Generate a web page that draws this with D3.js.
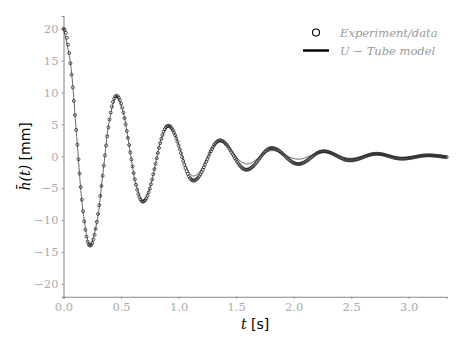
<!DOCTYPE html>
<html><head><meta charset="utf-8">
<script src="https://cdn.jsdelivr.net/npm/d3@7"></script>
<style>html,body{margin:0;padding:0;background:#fff;}svg{display:block;}</style>
</head><body>
<svg id="c" width="463" height="347"></svg>
<script>
// ---- data ----
const tStart = 0, tStep = 0.01;
const expH = [
20.00,19.84,19.37,18.59,17.52,16.19,14.60,12.80,10.82,8.70,6.46,4.16,1.84,-0.46,-2.69,-4.82,-6.80,-8.60,-10.19,-11.52,-12.59,-13.37,-13.84,
-14.00,-13.89,-13.57,-13.03,-12.29,-11.37,-10.27,-9.03,-7.66,-6.19,-4.64,-3.05,-1.45,0.14,1.69,3.16,4.53,5.77,6.87,7.79,8.53,9.07,9.39,
9.50,9.42,9.19,8.81,8.29,7.64,6.86,5.99,5.02,3.98,2.89,1.77,0.63,-0.49,-1.58,-2.62,-3.59,-4.46,-5.24,-5.89,-6.41,-6.79,-7.02,
-7.10,-7.04,-6.86,-6.56,-6.16,-5.65,-5.05,-4.37,-3.62,-2.83,-2.00,-1.15,-0.30,0.53,1.32,2.07,2.75,3.35,3.86,4.26,4.56,4.74,
4.80,4.76,4.63,4.41,4.12,3.75,3.32,2.82,2.29,1.71,1.11,0.50,-0.11,-0.71,-1.29,-1.82,-2.32,-2.75,-3.12,-3.41,-3.63,-3.76,
-3.80,-3.77,-3.68,-3.54,-3.34,-3.09,-2.80,-2.47,-2.10,-1.71,-1.29,-0.86,-0.44,-0.01,0.41,0.80,1.17,1.50,1.79,2.04,2.24,2.38,2.47,
2.50,2.48,2.41,2.31,2.17,1.98,1.77,1.53,1.26,0.97,0.67,0.36,0.04,-0.27,-0.57,-0.86,-1.13,-1.37,-1.58,-1.77,-1.91,-2.01,-2.08,
-2.10,-2.08,-2.03,-1.95,-1.83,-1.68,-1.51,-1.32,-1.11,-0.88,-0.64,-0.40,-0.16,0.08,0.31,0.52,0.71,0.88,1.03,1.15,1.23,1.28,
1.30,1.29,1.25,1.20,1.12,1.02,0.90,0.77,0.63,0.47,0.30,0.14,-0.04,-0.20,-0.37,-0.53,-0.67,-0.80,-0.92,-1.02,-1.10,-1.15,-1.19,
-1.20,-1.19,-1.16,-1.11,-1.04,-0.96,-0.85,-0.74,-0.62,-0.48,-0.34,-0.20,-0.06,0.08,0.22,0.34,0.45,0.56,0.64,0.71,0.76,0.79,
0.80,0.79,0.77,0.74,0.70,0.64,0.57,0.50,0.41,0.32,0.23,0.13,0.04,-0.06,-0.15,-0.24,-0.33,-0.40,-0.47,-0.53,-0.57,-0.60,-0.62,
-0.63,-0.62,-0.61,-0.59,-0.55,-0.51,-0.47,-0.41,-0.35,-0.29,-0.22,-0.15,-0.08,-0.01,0.06,0.12,0.18,0.24,0.28,0.32,0.36,0.38,0.40,
0.40,0.40,0.38,0.37,0.34,0.31,0.27,0.23,0.18,0.13,0.07,0.02,-0.03,-0.09,-0.14,-0.19,-0.23,-0.27,-0.30,-0.33,-0.35,-0.36,
-0.36,-0.36,-0.35,-0.34,-0.32,-0.30,-0.28,-0.25,-0.22,-0.19,-0.15,-0.12,-0.08,-0.05,-0.01,0.02,0.05,0.08,0.10,0.12,0.14,0.15,0.16,
0.16,0.16,0.15,0.15,0.13,0.12,0.10,0.08,0.06,0.04,0.02,-0.01,-0.03,-0.06,-0.08,-0.10,-0.12
];
const modelT = [0,0.0575,0.115,0.1725,0.23,0.2875,0.345,0.4025,0.46,0.5175,0.575,0.6325,0.69,0.745,0.80,0.855,0.91,0.965,1.02,1.075,1.13,1.1875,1.245,1.3025,1.36,1.4175,1.475,1.5325,1.59,1.645,1.70,1.755,1.81,1.8675,1.925,1.9825,2.04,2.095,2.15,2.205,2.26,2.3175,2.375,2.4325,2.49,2.5475,2.605,2.6625,2.72,2.775,2.83,2.885,2.94,2.9975,3.055,3.1125,3.17,3.2275,3.285,3.33];
const modelH = [20,15.02,3.0,-9.02,-14.0,-10.57,-2.3,5.97,9.4,7.0,1.2,-4.6,-7.0,-5.29,-1.15,2.99,4.7,3.56,0.8,-1.96,-3.1,-2.31,-0.4,1.51,2.3,1.79,0.55,-0.69,-1.2,-0.89,-0.15,0.59,0.9,0.70,0.225,-0.25,-0.45,-0.28,0.125,0.53,0.7,0.55,0.2,-0.15,-0.3,-0.2,0.05,0.3,0.4,0.31,0.1,-0.11,-0.2,-0.15,-0.025,0.10,0.15,0.11,0.025,-0.05];
const xTicks = [0,0.5,1.0,1.5,2.0,2.5,3.0];
const yTicks = [-20,-15,-10,-5,0,5,10,15,20];
const xDomain = [0,3.33], yDomain = [-22,22];
const legendLabels = ["Experiment/data","U \u2212 Tube model"];

// ---- chart ----
const svg = d3.select("#c");
const L = 63.5, R = 446.7, T = 16, B = 296.7;
const x = d3.scaleLinear().domain(xDomain).range([L,R]);
const y = d3.scaleLinear().domain(yDomain).range([B,T]);
const serif = "'DejaVu Serif','Liberation Serif',serif";
const sans = "'DejaVu Sans','Liberation Sans',sans-serif";

const gx = svg.append("g").attr("transform",`translate(0,${B})`)
  .call(d3.axisBottom(x).tickValues(xTicks).tickSize(2).tickPadding(4).tickFormat(d3.format(".1f")));
const gy = svg.append("g").attr("transform",`translate(${L},0)`)
  .call(d3.axisLeft(y).tickValues(yTicks).tickSize(2).tickPadding(3).tickFormat(d3.format("d")));
[gx,gy].forEach(g=>{
  g.select(".domain").attr("stroke","#8a8a8a").attr("stroke-width",1.1);
  g.selectAll(".tick line").attr("stroke","#8a8a8a");
  g.selectAll(".tick text").attr("fill","#aaaaaa").style("font-family",serif).style("font-size","11.5px");
});

// model line
svg.append("path").datum(modelT.map((t,i)=>[t,modelH[i]]))
  .attr("fill","none").attr("stroke","#6a6a6a").attr("stroke-width",1)
  .attr("d",d3.line().x(d=>x(d[0])).y(d=>y(d[1])).curve(d3.curveCatmullRom));

// experimental data circles
svg.append("g").selectAll("circle").data(expH).join("circle")
  .attr("cx",(d,i)=>x(tStart+i*tStep)).attr("cy",d=>y(d)).attr("r",1.5)
  .attr("fill","none").attr("stroke","#222").attr("stroke-width",0.75);

// axis titles
const xt = svg.append("text").attr("x",(L+R)/2).attr("y",329).attr("text-anchor","middle")
  .style("font-family",sans).style("font-size","14px").attr("fill","#000");
xt.append("tspan").style("font-family",serif).style("font-style","italic").text("t");
xt.append("tspan").text(" [s]");
const yt = svg.append("text").attr("transform",`translate(30,${(T+B)/2}) rotate(-90)`).attr("text-anchor","middle")
  .style("font-family",sans).style("font-size","14px").attr("fill","#000");
yt.append("tspan").style("font-family",serif).style("font-style","italic").text("h\u0304(t)");
yt.append("tspan").text(" [mm]");

// legend
const lg = svg.append("g");
lg.append("circle").attr("cx",316).attr("cy",32.5).attr("r",3.5).attr("fill","none").attr("stroke","#000").attr("stroke-width",1.1);
lg.append("line").attr("x1",303).attr("x2",329).attr("y1",50.5).attr("y2",50.5).attr("stroke","#000").attr("stroke-width",2.5);
lg.selectAll("text").data(legendLabels).join("text")
  .attr("x",340).attr("y",(d,i)=>36.5+i*18).text(d=>d)
  .style("font-family",serif).style("font-style","italic").style("font-size","11.5px").attr("fill","#999");
</script>
</body></html>
